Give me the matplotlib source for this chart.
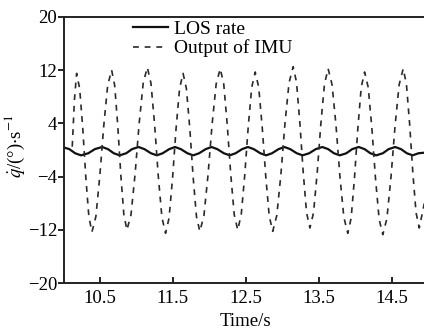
import matplotlib
matplotlib.use('Agg')
import matplotlib.pyplot as plt

plt.rcParams['font.family'] = ['Liberation Serif', 'DejaVu Serif']
plt.rcParams['mathtext.fontset'] = 'stix'

# LOS rate (solid)
los_t = [10.00, 10.08, 10.16, 10.24, 10.34, 10.43, 10.53, 10.61, 10.69, 10.77,
         10.86, 10.94, 11.03, 11.11, 11.20, 11.28, 11.36, 11.45, 11.53, 11.61,
         11.70, 11.78, 11.86, 11.95, 12.03, 12.11, 12.20, 12.28, 12.36, 12.45,
         12.53, 12.61, 12.70, 12.78, 12.86, 12.95, 13.03, 13.11, 13.20, 13.28,
         13.37, 13.46, 13.55, 13.63, 13.71, 13.79, 13.88, 13.96, 14.05, 14.13,
         14.21, 14.29, 14.38, 14.46, 14.55, 14.63, 14.71, 14.79, 14.87, 14.95]
los_v = [0.40, 0.13, -0.49, -0.80, -0.49, 0.13, 0.45, 0.13, -0.49, -0.80,
         -0.49, 0.13, 0.45, 0.13, -0.49, -0.80, -0.49, 0.13, 0.45, 0.13,
         -0.49, -0.80, -0.49, 0.13, 0.45, 0.13, -0.49, -0.80, -0.49, 0.13,
         0.45, 0.13, -0.49, -0.80, -0.49, 0.13, 0.45, 0.13, -0.49, -0.80,
         -0.49, 0.13, 0.45, 0.13, -0.49, -0.80, -0.49, 0.13, 0.45, 0.13,
         -0.49, -0.80, -0.49, 0.13, 0.45, 0.13, -0.49, -0.80, -0.49, -0.40]

# Output of IMU (dashed)
imu_t = [10.12, 10.15, 10.18,
         10.222, 10.264, 10.306, 10.348, 10.39,
         10.444, 10.498, 10.552, 10.606, 10.66,
         10.702, 10.744, 10.786, 10.828, 10.87,
         10.926, 10.982, 11.038, 11.094, 11.15,
         11.20, 11.25, 11.30, 11.35, 11.40,
         11.448, 11.496, 11.544, 11.592, 11.64,
         11.686, 11.732, 11.778, 11.824, 11.87,
         11.926, 11.982, 12.038, 12.094, 12.15,
         12.198, 12.246, 12.294, 12.342, 12.39,
         12.438, 12.486, 12.534, 12.582, 12.63,
         12.678, 12.726, 12.774, 12.822, 12.87,
         12.926, 12.982, 13.038, 13.094, 13.15,
         13.196, 13.242, 13.288, 13.334, 13.38,
         13.43, 13.48, 13.53, 13.58, 13.63,
         13.684, 13.738, 13.792, 13.846, 13.90,
         13.946, 13.992, 14.038, 14.084, 14.13,
         14.18, 14.23, 14.28, 14.33, 14.38,
         14.436, 14.492, 14.548, 14.604, 14.66,
         14.704, 14.748, 14.792, 14.836, 14.88,
         14.95]
imu_v = [0.5, 7.5, 11.5,
         9.2, 3.3, -4.1, -10.0, -12.3,
         -10.0, -3.9, 3.6, 9.7, 12.0,
         9.7, 3.7, -3.7, -9.7, -12.0,
         -9.7, -3.6, 4.0, 10.1, 12.4,
         10.0, 3.8, -3.9, -10.1, -12.5,
         -10.2, -4.2, 3.2, 9.2, 11.5,
         9.2, 3.3, -4.0, -10.0, -12.2,
         -9.9, -3.8, 3.8, 9.9, 12.2,
         9.9, 3.8, -3.6, -9.7, -12.0,
         -9.7, -3.8, 3.5, 9.4, 11.7,
         9.4, 3.4, -3.9, -9.9, -12.2,
         -9.8, -3.7, 4.0, 10.1, 12.5,
         10.2, 4.1, -3.3, -9.4, -11.7,
         -9.4, -3.4, 3.9, 9.9, 12.2,
         9.8, 3.7, -4.0, -10.1, -12.5,
         -10.2, -4.1, 3.3, 9.4, 11.7,
         9.4, 3.3, -4.3, -10.4, -12.7,
         -10.3, -4.1, 3.6, 9.8, 12.2,
         9.9, 3.9, -3.4, -9.4, -11.7,
         -8.0]

xticks = [10.5, 11.5, 12.5, 13.5, 14.5]
yticks = [-20, -12, -4, 4, 12, 20]

fig = plt.figure(figsize=(4.24, 3.31), dpi=100)
ax = fig.add_axes([63.5 / 424, 1 - 283.3 / 331, (428 - 63.5) / 424, (283.3 - 16.7) / 331])

ax.plot(los_t, los_v, color='#111111', linewidth=1.6, label='LOS rate')
ax.plot(imu_t, imu_v, color='#2a2a2a', linewidth=1.2, linestyle=(0, (3.5, 3.5)),
        label='Output of IMU')

ax.set_xlim(10, 15)
ax.set_ylim(-20, 20)
ax.set_xticks(xticks)
ax.set_xticklabels([str(v) for v in xticks])
ax.set_yticks(yticks)
ax.set_yticklabels([str(v).replace('-', '\u2212') for v in yticks])
ax.tick_params(axis='x', direction='in', length=4, width=1.2, pad=4.5, labelsize=13.5)
ax.tick_params(axis='y', direction='out', length=4, width=1.2, pad=0.5, labelsize=13.5)
for s in ax.spines.values():
    s.set_linewidth(1.4)
    s.set_color('#222222')

ax.set_xlabel('Time/s', fontsize=13.5, labelpad=5)
fig.text(15 / 424, 0.56, r'$\dot{q}$/(°)$\cdot$s$^{-1}$', rotation=90,
         ha='center', va='center', fontsize=13.5)

ax.legend(loc='upper left', bbox_to_anchor=(133 / 424, 1 - 20 / 331),
          bbox_transform=fig.transFigure, frameon=False, fontsize=14,
          handlelength=1.8, handletextpad=0.3, labelspacing=0.1,
          borderpad=0, borderaxespad=0)

fig.savefig('out.png', dpi=100)
